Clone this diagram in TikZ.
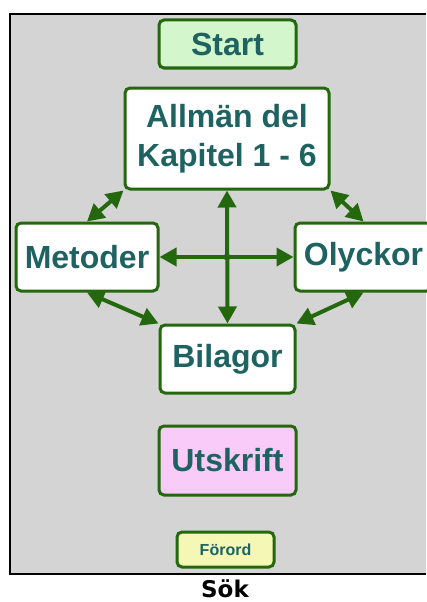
\documentclass[tikz,border=0pt]{standalone}
\usepackage{fontspec}
\setmainfont{Liberation Sans}
\newfontfamily\sokfont{DejaVu Sans}
\usetikzlibrary{arrows.meta}
\definecolor{bggray}{RGB}{212,212,212}
\definecolor{boxgreen}{RGB}{35,104,12}
\definecolor{txtteal}{RGB}{30,98,98}
\definecolor{startfill}{RGB}{212,246,204}
\definecolor{pinkfill}{RGB}{249,203,249}
\definecolor{yellowfill}{RGB}{245,247,181}
\tikzset{
  mbox/.style={draw=boxgreen, line width=3pt, rounded corners=5pt, fill=white,
    text=txtteal, font=\fontsize{32}{39}\selectfont\bfseries, align=center,
    inner sep=0pt},
  conn/.style={draw=boxgreen, line width=4pt,
    {Triangle[length=17pt,width=18pt]}-{Triangle[length=17pt,width=18pt]}}
}
\begin{document}
\begin{tikzpicture}[x=1pt,y=-1pt]
\useasboundingbox (0,0) rectangle (426,602);
\fill[white] (0,0) rectangle (426,602);
\fill[bggray] (10,14) rectangle (426,573.7);
\draw[black, line width=2pt] (426,14) -- (10,14) -- (10,573.7) -- (426,573.7);

\node[mbox, fill=startfill, minimum width=137pt, minimum height=48pt] (start) at (227.5,44) {Start};
\node[mbox, minimum width=204pt, minimum height=101pt] (allman) at (227,138.5) {Allmän del\\Kapitel 1 - 6};
\node[mbox, minimum width=142pt, minimum height=68pt] (metoder) at (87,257) {Metoder};
\node[mbox, minimum width=137pt, minimum height=68pt] (olyckor) at (363.5,257) {Olyckor};
\node[mbox, minimum width=135pt, minimum height=68pt] (bilagor) at (227.5,359) {Bilagor};
\node[mbox, fill=pinkfill, minimum width=137pt, minimum height=69pt] (utskrift) at (227.5,460.5) {Utskrift};
\node[mbox, fill=yellowfill, minimum width=97pt, minimum height=35pt, font=\fontsize{16}{19}\selectfont\bfseries] (forord) at (225.5,549.5) {Förord};
\node[anchor=base, inner sep=0pt, font=\sokfont\fontsize{23}{27}\selectfont\bfseries] (sok) at (225,597) {Sök};

\coordinate (jn) at (allman.south |- metoder.east);
\draw[conn] (allman.south) -- (bilagor.north);
\draw[conn] (metoder.east) -- (olyckor.west);
\fill[boxgreen] (jn) circle (3.5pt);
\draw[conn] (metoder.north) -- (allman.south west);
\draw[conn] (olyckor.north) -- (allman.south east);
\draw[conn] (metoder.south) -- (bilagor.north west);
\draw[conn] (olyckor.south) -- (bilagor.north east);
\end{tikzpicture}
\end{document}
